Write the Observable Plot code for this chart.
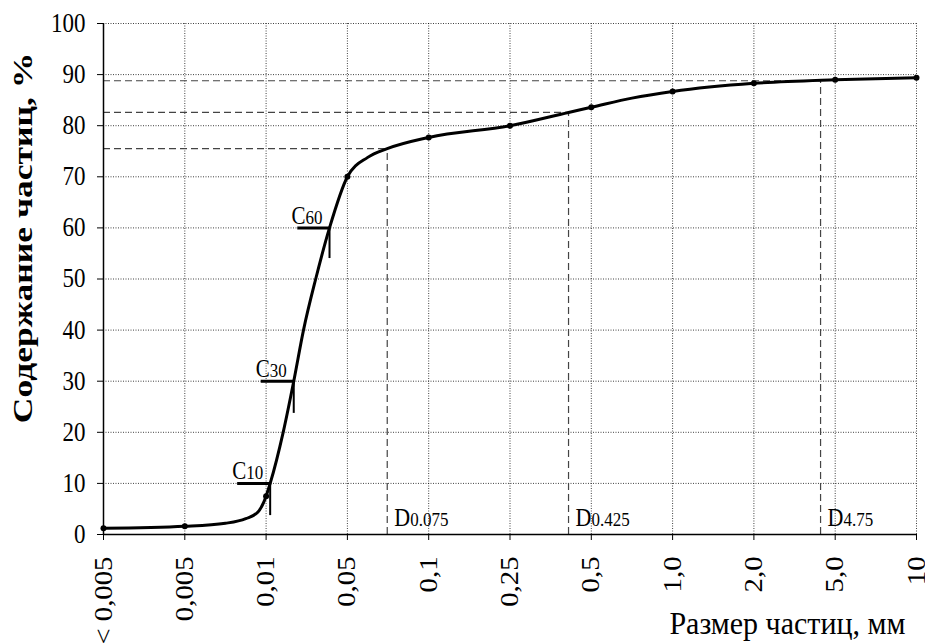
<!DOCTYPE html>
<html><head><meta charset="utf-8">
<script src="https://cdn.jsdelivr.net/npm/d3@7"></script>
<script src="https://cdn.jsdelivr.net/npm/@observablehq/plot@0.6"></script>
<style>body{margin:0;background:#fff}#chart svg{display:block}#chart svg text{font-family:"Liberation Serif","Times New Roman",serif !important}</style>
</head><body><div id="chart"></div>
<script>
// Category axis (equally spaced sieve sizes, mm)
const sizeLabels = ["< 0,005","0,005","0,01","0,05","0,1","0,25","0,5","1,0","2,0","5,0","10"];
const sizeIndex = [0,1,2,3,4,5,6,7,8,9,10];
// Measured content at each size, %
const content = [1.2,1.6,7.5,70,77.7,80.0,83.6,86.7,88.3,89.0,89.4];
// Curve (position in category steps, %)
const curveX = [0,1,1.5,1.75,1.9,1.97,2,2.05,2.21,2.34,2.46,2.61,2.78,3,3.25,3.49,4,5,5.72,6,6.5,7,8,9,10];
const curveY = [1.2,1.6,2.2,3.1,4.4,6.3,7.5,10,20,30,40,50,60,70,73.8,75.5,77.7,80,82.6,83.6,85.4,86.7,88.3,89.0,89.4];
// C-markers
const cIdx = [0,1,2];
const cLevel = [10,30,60];
const cPos = [2.05,2.34,2.78];
const cStart = [1.65,1.94,2.39];
const cTickEnd = [3.7,23.7,54];
const cSub = ["10","30","60"];
// D-markers
const dIdx = [0,1,2];
const dPos = [3.49,5.72,8.82];
const dLevel = [75.5,82.6,88.8];
const dSub = ["0.075","0.425","4.75"];
// Y ticks
const yTicks = [0,10,20,30,40,50,60,70,80,90,100];

const yTitle = "Содержание частиц, %";
const xTitle = "Размер частиц, мм";

const serif = "'Liberation Serif','Times New Roman',serif";
const grid = {stroke:"#000", strokeOpacity:0.75, strokeDasharray:"1,1.5", strokeWidth:1};
const dash = {stroke:"#444", strokeDasharray:"7,4", strokeWidth:1.2};

const chart = Plot.plot({
  width:925, height:643,
  marginLeft:103, marginRight:9, marginTop:23, marginBottom:109,
  style:{fontFamily:serif, background:"#fff", color:"#000"},
  x:{type:"linear", domain:[0,10]},
  y:{domain:[0,100]},
  marks:[
    Plot.gridX(sizeIndex.slice(1), grid),
    Plot.gridY(yTicks.slice(1), grid),
    Plot.ruleY(dIdx, {y:i=>dLevel[i], x1:i=>0, x2:i=>dPos[i], ...dash}),
    Plot.ruleX(dIdx, {x:i=>dPos[i], y1:i=>0, y2:i=>dLevel[i], ...dash}),
    Plot.axisY(yTicks, {tickSize:6, tickPadding:12, fontSize:23, label:null, fontFamily:serif}),
    Plot.axisX(sizeIndex, {tickFormat:i=>sizeLabels[i], tickRotate:-90, tickSize:6, tickPadding:16, fontSize:25, label:null, fontFamily:serif}),
    Plot.ruleX([0], {stroke:"#000", strokeWidth:1.5}),
    Plot.ruleY([0], {stroke:"#000", strokeWidth:1.5}),
    Plot.line(curveX, {x:d=>d, y:(d,i)=>curveY[i], curve:"monotone-x", stroke:"#000", strokeWidth:3}),
    Plot.dot(sizeIndex, {x:i=>i, y:i=>content[i], r:3, fill:"#000"}),
    Plot.ruleY(cIdx, {y:i=>cLevel[i], x1:i=>cStart[i], x2:i=>cPos[i], stroke:"#000", strokeWidth:3}),
    Plot.ruleX(cIdx, {x:i=>cPos[i], y1:i=>cTickEnd[i], y2:i=>cLevel[i], stroke:"#000", strokeWidth:2}),
    Plot.text(cIdx, {x:i=>cPos[i], y:i=>cLevel[i], text:i=>"C", textAnchor:"end", lineAnchor:"bottom", dx:-24, dy:-4, fontSize:21, fontFamily:serif}),
    Plot.text(cIdx, {x:i=>cPos[i], y:i=>cLevel[i], text:i=>cSub[i], textAnchor:"end", lineAnchor:"bottom", dx:-7, dy:-4, fontSize:17, fontFamily:serif}),
    Plot.text(dIdx, {x:i=>dPos[i], y:i=>0, text:i=>"D", textAnchor:"start", lineAnchor:"bottom", dx:7, dy:-9, fontSize:22, fontFamily:serif}),
    Plot.text(dIdx, {x:i=>dPos[i], y:i=>0, text:i=>dSub[i], textAnchor:"start", lineAnchor:"bottom", dx:23, dy:-9, fontSize:17, fontFamily:serif}),
    Plot.text([yTitle], {frameAnchor:"left", rotate:-90, dx:-80, dy:-41, fontSize:28, fontWeight:"bold", textAnchor:"middle", lineAnchor:"middle", fontFamily:serif}),
    Plot.text([xTitle], {frameAnchor:"bottom-right", textAnchor:"end", lineAnchor:"bottom", dx:-11, dy:99, fontSize:30, fontFamily:serif})
  ]
});

// The original lettering is tall and narrow: stretch text vertically on screen.
d3.select(chart).selectAll("text").each(function(){
  const t = this.getAttribute("transform") || "";
  if (!/translate/.test(t)) return;
  const rotated = /rotate\(-90\)/.test(t);
  const s = this.textContent;
  let k = 1.15;
  if (s === yTitle) k = 1.27;
  else if (s === xTitle) k = 1.06;
  this.setAttribute("transform", t + (rotated ? ` scale(${k},1)` : ` scale(1,${k})`));
});

document.getElementById("chart").appendChild(chart);
</script>
</body></html>
